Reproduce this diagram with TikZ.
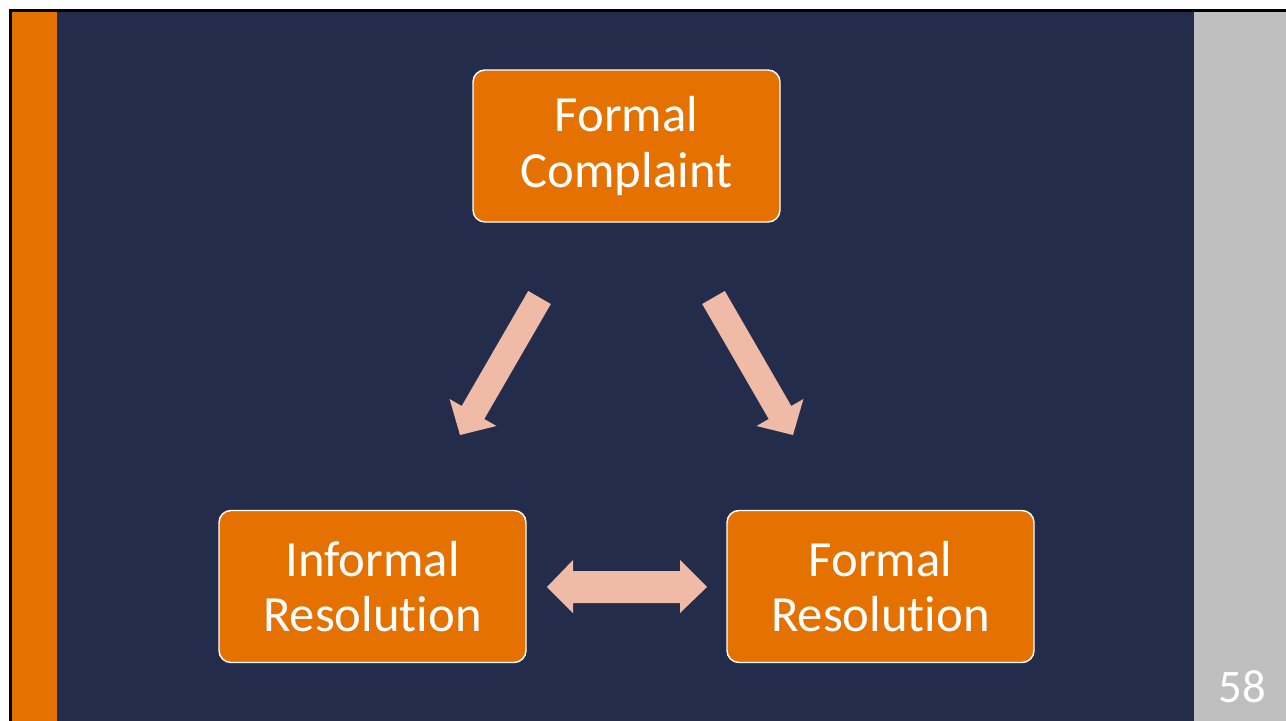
\documentclass[tikz,border=0pt]{standalone}
\usepackage{fontspec}
\setmainfont[Ligatures=NoCommon]{Carlito}
\definecolor{navy}{HTML}{232D4B}
\definecolor{uorange}{HTML}{E57200}
\definecolor{peach}{HTML}{F0BBA6}
\definecolor{lgray}{HTML}{BFBFBF}
\begin{document}
\begin{tikzpicture}[x=0.75pt,y=-0.75pt,
  box/.style={draw=white, line width=1.1pt, fill=uorange, rounded corners=9pt,
    minimum width=230.25pt, minimum height=114pt, inner sep=0pt, align=center,
    text=white, font=\fontsize{38}{41.5}\selectfont},
  blockarrow/.style={fill=peach, draw=none}]
\useasboundingbox (0,0) rectangle (1286,721);
\fill[white] (0,0) rectangle (1286,721);
\fill[black] (9,9) rectangle (1286,721);
\fill[navy] (12,12) rectangle (1286,721);
\fill[uorange] (12,12) rectangle (57,721);
\fill[lgray] (1194,12) rectangle (1286,721);
\node[box] (fc) at (626.5,146) {Formal\\Complaint};
\node[box] (ir) at (372.5,586.5) {Informal\\Resolution};
\node[box] (fr) at (880.5,586.5) {Formal\\Resolution};
\node[text=white, font=\fontsize{35}{40}\selectfont] (pg) at (1242,687) {58};
% block arrows
\fill[blockarrow] (528.2,291) -- (550.8,304) -- (484.3,419) -- (496.4,426) -- (460,435) -- (449.6,399) -- (461.7,406) -- cycle;
\fill[blockarrow] (724.8,291) -- (702.2,304) -- (768.7,419) -- (756.6,426) -- (793,435) -- (803.4,399) -- (791.3,406) -- cycle;
\fill[blockarrow] (547,587) -- (573,560) -- (573,571) -- (680,571) -- (680,560) -- (707,587) -- (680,613) -- (680,603) -- (573,603) -- (573,613) -- cycle;
\end{tikzpicture}
\end{document}
